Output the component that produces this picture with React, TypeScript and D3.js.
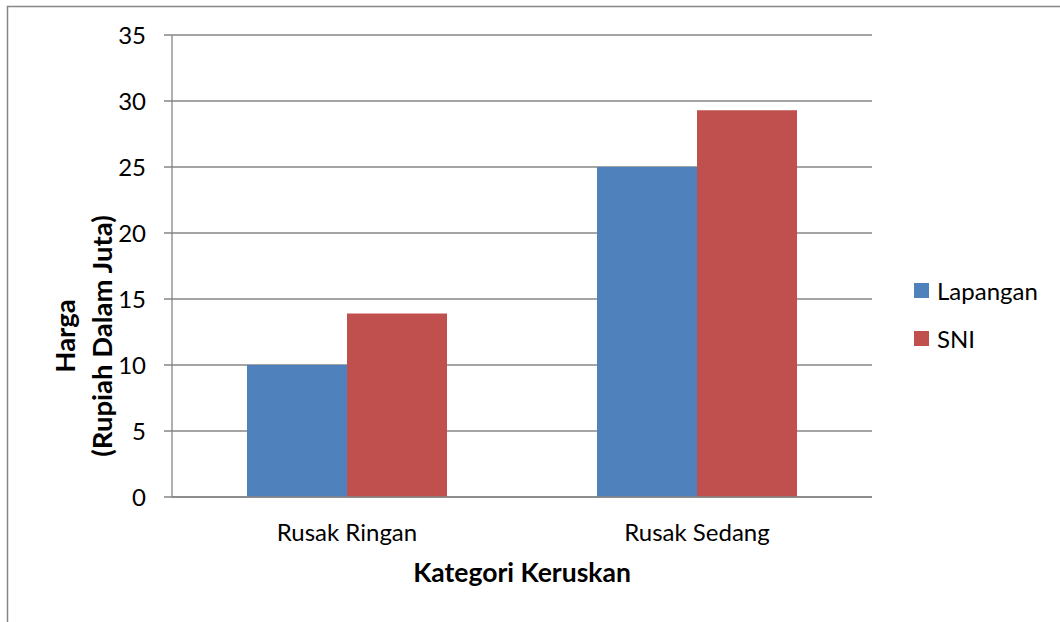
import React from 'react';
import * as d3 from 'd3';

const categories = ['Rusak Ringan', 'Rusak Sedang'];
const seriesNames = ['Lapangan', 'SNI'];
const lapangan = [10, 25];
const sni = [13.9, 29.3];
const yTicks = [0, 5, 10, 15, 20, 25, 30, 35];

const colors = ['#4F81BD', '#C0504D'];
const font = 'Lato, "Open Sans", sans-serif';

const App: React.FC = () => {
  const width = 1060;
  const height = 622;
  const margin = { left: 172, right: 188, top: 35, bottom: 125 };
  const plotW = width - margin.left - margin.right;
  const plotH = height - margin.top - margin.bottom;

  const x0 = d3.scaleBand().domain(categories).range([0, plotW]).paddingInner(0.4286).paddingOuter(0.2143);
  const x1 = d3.scaleBand().domain(seriesNames).range([0, x0.bandwidth()]);
  const y = d3.scaleLinear().domain([0, 35]).range([plotH, 0]);

  const values = [lapangan, sni];

  return (
    <div style={{ position: 'absolute', left: 0, top: 0 }}>
      <svg width={width} height={height} style={{ display: 'block', background: '#fff' }}>
        <rect x={7.5} y={6.5} width={1200} height={800} fill="none" stroke="#868686" strokeWidth={1.5} />
        <g transform={`translate(${margin.left},${margin.top})`}>
          {yTicks.map(t => (
            <g key={t}>
              <line x1={-8} x2={plotW} y1={y(t)} y2={y(t)} stroke="#868686" strokeWidth={1.3} />
              <text x={-26} y={y(t)} dy="0.36em" textAnchor="end" fontFamily={font} fontSize={24} fill="#000">{t}</text>
            </g>
          ))}
          <line x1={0} x2={0} y1={0} y2={plotH} stroke="#868686" strokeWidth={1.3} />
          {categories.map((c, i) => (
            <g key={c} transform={`translate(${x0(c)},0)`}>
              {seriesNames.map((s, j) => (
                <rect key={s} x={x1(s)} y={y(values[j][i])} width={x1.bandwidth()} height={plotH - y(values[j][i])} fill={colors[j]} />
              ))}
              <text x={x0.bandwidth() / 2} y={plotH + 44} textAnchor="middle" fontFamily={font} fontSize={24} fill="#000">{c}</text>
            </g>
          ))}
          <line x1={0} x2={plotW} y1={plotH} y2={plotH} stroke="#868686" strokeWidth={1.3} />
        </g>
        <text x={margin.left + plotW / 2} y={582} textAnchor="middle" fontFamily={font} fontSize={26.5} fontWeight="bold" fill="#000">Kategori Keruskan</text>
        <g transform={`translate(0,336) rotate(-90)`}>
          <text x={0} y={75} textAnchor="middle" fontFamily={font} fontSize={27.5} fontWeight="bold" fill="#000">Harga</text>
          <text x={0} y={112} textAnchor="middle" fontFamily={font} fontSize={27.5} fontWeight="bold" fill="#000">(Rupiah Dalam Juta)</text>
        </g>
        {seriesNames.map((s, j) => (
          <g key={s} transform={`translate(914,${283 + j * 48})`}>
            <rect x={0} y={0} width={15} height={15} fill={colors[j]} />
            <text x={23} y={8} dy="0.36em" fontFamily={font} fontSize={24} fill="#000">{s}</text>
          </g>
        ))}
      </svg>
    </div>
  );
};

export default App;
